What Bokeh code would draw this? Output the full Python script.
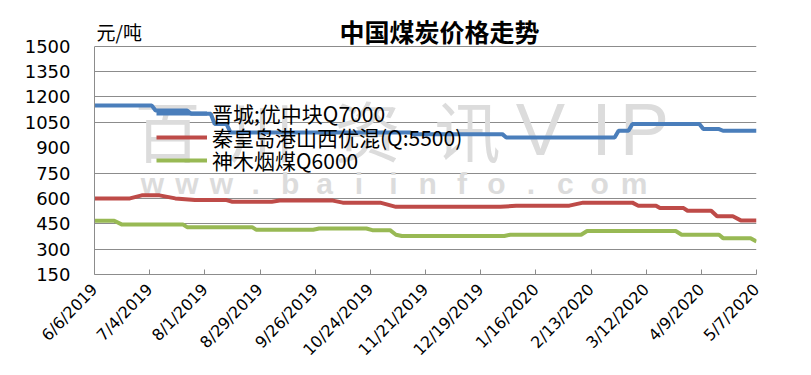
import pandas as pd
from bokeh.plotting import figure
from bokeh.models import (Range1d, FixedTicker, Label, Legend, LegendItem)
from bokeh.embed import file_html
from bokeh.resources import INLINE

# ---------------- data ----------------
title_text = "中国煤炭价格走势"
unit_text = "元/吨"

series_names = ["晋城;优中块Q7000", "秦皇岛港山西优混(Q:5500)", "神木烟煤Q6000"]

blue_dates = ["2019-06-06", "2019-07-05", "2019-07-07", "2019-07-23", "2019-07-25",
              "2019-08-04", "2019-08-06", "2019-08-12", "2019-08-14", "2019-11-13",
              "2019-11-15", "2019-12-30", "2020-01-01", "2020-02-25", "2020-02-27",
              "2020-03-03", "2020-03-05", "2020-04-08", "2020-04-10", "2020-04-18",
              "2020-04-20", "2020-05-07"]
blue_vals = [1150, 1150, 1120, 1120, 1100,
             1100, 1040, 1040, 990, 990,
             980, 980, 960, 960, 1000,
             1000, 1040, 1040, 1010, 1010,
             1000, 1000]

red_dates = ["2019-06-06", "2019-06-24", "2019-06-30", "2019-07-09", "2019-07-17",
             "2019-07-27", "2019-08-12", "2019-08-15", "2019-09-04", "2019-09-08",
             "2019-10-05", "2019-10-10", "2019-10-29", "2019-11-06", "2019-12-29",
             "2020-01-06", "2020-02-02", "2020-02-09", "2020-03-05", "2020-03-08",
             "2020-03-17", "2020-03-19", "2020-03-31", "2020-04-02", "2020-04-14",
             "2020-04-17", "2020-04-25", "2020-04-29", "2020-05-07"]
red_vals = [600, 600, 618, 618, 600,
            590, 590, 580, 580, 587,
            587, 575, 575, 550, 550,
            557, 557, 575, 575, 557,
            557, 543, 543, 527, 527,
            494, 494, 470, 470]

green_dates = ["2019-06-06", "2019-06-16", "2019-06-20", "2019-07-21", "2019-07-23",
               "2019-08-25", "2019-08-27", "2019-09-25", "2019-09-28", "2019-10-22",
               "2019-10-25", "2019-11-03", "2019-11-06", "2019-11-09", "2019-12-31",
               "2020-01-03", "2020-02-08", "2020-02-11", "2020-03-27", "2020-03-30",
               "2020-04-18", "2020-04-20", "2020-05-04", "2020-05-07"]
green_vals = [468, 468, 445, 445, 430,
              430, 415, 415, 422, 422,
              412, 412, 385, 378, 378,
              385, 385, 407, 407, 385,
              385, 365, 365, 345]

y_ticks = [150, 300, 450, 600, 750, 900, 1050, 1200, 1350, 1500]
x_tick_labels = ["6/6/2019", "7/4/2019", "8/1/2019", "8/29/2019", "9/26/2019",
                 "10/24/2019", "11/21/2019", "12/19/2019", "1/16/2020", "2/13/2020",
                 "3/12/2020", "4/9/2020", "5/7/2020"]

# ---------------- helpers ----------------
def to_ms(strs, fmt=None):
    d = pd.to_datetime(strs, format=fmt)
    return [int(t.value // 10**6) for t in d]

tick_ms = to_ms(x_tick_labels, "%m/%d/%Y")
colors = ["#4A7EBB", "#BE4B48", "#98B954"]

OFF = 1                     # page offset of the canvas in the window
W, H = 805, 373
BL, BT = 94, 9              # frame left/top (figure px)
FR, FB = 756, 274           # frame right/bottom (figure px)
BR, BB = W - FR, H - FB
FW, FH = FR - BL, FB - BT
Y_TOP_WIN, Y_BOT_WIN = 46.7, 275.0   # window y of 1500 and 150
y_lo, y_hi = y_ticks[0], y_ticks[-1]
y_end = y_hi + ((Y_TOP_WIN) - (BT + OFF)) * (y_hi - y_lo) / (Y_BOT_WIN - Y_TOP_WIN)

def fx(wx):  # window x -> frame-relative screen x
    return wx - OFF - BL

def fy(wy):  # window y -> frame-relative screen y (upwards)
    return FH - (wy - OFF - BT)

p = figure(width=W, height=H, output_backend="svg", toolbar_location=None,
           x_axis_type="datetime",
           x_range=Range1d(tick_ms[0], tick_ms[-1]), y_range=Range1d(y_lo, y_end),
           min_border_left=BL, min_border_right=BR, min_border_top=BT,
           min_border_bottom=BB)
p.outline_line_color = None
p.background_fill_color = "white"
p.border_fill_color = "white"

# grid
p.xgrid.grid_line_color = None
p.ygrid.ticker = FixedTicker(ticks=[t for t in y_ticks if t not in (150, 900)])
p.ygrid.grid_line_color = "#8C8C8C"
p.ygrid.grid_line_width = 1

# y axis
p.yaxis.ticker = FixedTicker(ticks=y_ticks)
p.yaxis.bounds = (y_lo, y_hi)
p.yaxis.axis_line_color = "#8C8C8C"
p.yaxis.major_tick_in = 0
p.yaxis.major_tick_out = 0
p.yaxis.minor_tick_line_color = None
p.yaxis.major_label_standoff = 24
p.yaxis.major_label_text_font = "DejaVu Sans"
p.yaxis.major_label_text_font_size = "18px"
p.yaxis.major_label_text_color = "black"

# x axis
p.xaxis.ticker = FixedTicker(ticks=tick_ms)
p.xaxis.major_label_overrides = {t: lab for t, lab in zip(tick_ms, x_tick_labels)}
p.xaxis.axis_line_color = "#8C8C8C"
p.xaxis.major_tick_line_color = "#8C8C8C"
p.xaxis.major_tick_in = 5
p.xaxis.major_tick_out = 0
p.xaxis.minor_tick_line_color = None
p.xaxis.major_label_orientation = 0.8
p.xaxis.major_label_standoff = 12
p.xaxis.major_label_text_font = "DejaVu Sans"
p.xaxis.major_label_text_font_size = "16px"
p.xaxis.major_label_text_color = "black"

# watermark
wm_color = "#DCDCDC"
for ch, wx in zip("百川资讯", [168, 262, 368, 468]):
    p.add_layout(Label(x=fx(wx), y=fy(128), x_units="screen", y_units="screen",
                       text=ch, text_font="Noto Sans CJK SC", text_font_size="66px",
                       text_color=wm_color, text_align="center", text_baseline="middle",
                       level="underlay"))
for ch, wx in zip("VIP", [541, 602, 645]):
    p.add_layout(Label(x=fx(wx), y=fy(130), x_units="screen", y_units="screen",
                       text=ch, text_font="Liberation Sans", text_font_size="74px",
                       text_color=wm_color, text_align="center", text_baseline="middle",
                       level="underlay"))
for i, ch in enumerate("www.baiinfo.com"):
    p.add_layout(Label(x=fx(153 + i * 34.4), y=fy(184), x_units="screen", y_units="screen",
                       text=ch, text_font="Liberation Sans", text_font_size="30px",
                       text_font_style="bold",
                       text_color=wm_color, text_align="center", text_baseline="middle",
                       level="underlay"))

# lines
renderers = []
for dates, vals, c in [(blue_dates, blue_vals, colors[0]),
                       (red_dates, red_vals, colors[1]),
                       (green_dates, green_vals, colors[2])]:
    r = p.line(to_ms(dates), vals, line_color=c, line_width=4)
    renderers.append(r)

# one legend per entry so that the row pitch matches the reference
ITEM_H = 30
for name, r, wy in zip(series_names, renderers, [114.0, 137.5, 161.0]):
    lg = Legend(items=[LegendItem(label=name, renderers=[r])],
                location=(fx(157), fy(wy) - ITEM_H / 2), orientation="vertical",
                padding=0, margin=0, spacing=0,
                glyph_width=51, glyph_height=ITEM_H, label_height=ITEM_H, label_standoff=5,
                label_text_font="Noto Sans CJK SC", label_text_font_size="21px",
                label_text_color="black", label_text_baseline="middle",
                background_fill_alpha=0, border_line_color=None)
    p.add_layout(lg)

# title and unit (inside the frame area above the 1500 line)
p.add_layout(Label(x=fx(440), y=fy(31), x_units="screen", y_units="screen",
                   text=title_text, text_font="Noto Sans CJK SC", text_font_size="25px",
                   text_font_style="bold", text_color="black",
                   text_align="center", text_baseline="middle"))
p.add_layout(Label(x=fx(97), y=fy(32), x_units="screen", y_units="screen",
                   text=unit_text, text_font="Noto Sans CJK SC", text_font_size="19px",
                   text_color="black", text_align="left", text_baseline="middle"))

open("out.html", "w").write(file_html(p, INLINE))
